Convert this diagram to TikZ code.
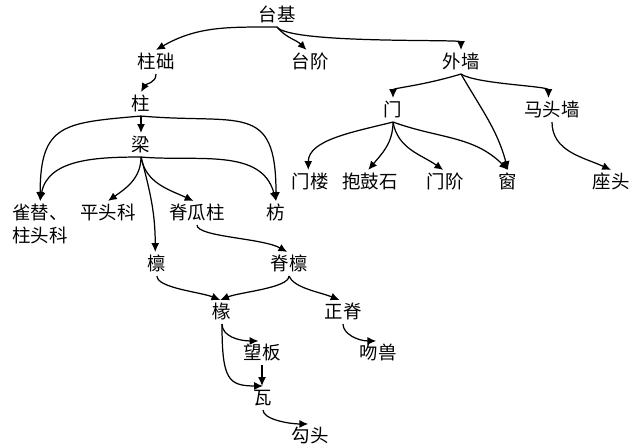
\documentclass[tikz,border=0pt]{standalone}
\usepackage{fontspec}
\usepackage{tikz}
\usetikzlibrary{arrows.meta}
\newfontfamily\cjk{Noto Sans CJK SC}
\tikzset{
  partnode/.style={font=\fontsize{10.5pt}{13pt}\selectfont\cjk, inner sep=1.5pt,
                   text height=9pt, text depth=1.3pt},
  arr/.style={line width=0.7pt, -{Latex[length=5pt,width=4.5pt]}}
}

\begin{document}
\begin{tikzpicture}[x=0.02cm, y=0.02cm]
  \useasboundingbox (0,0) rectangle (632,-446);

  % base and walls
  \node[partnode] (taiji)    at (277,-15) {台基};
  \node[partnode] (zhuchu)   at (156,-62) {柱础};
  \node[partnode] (taijie)   at (310,-62) {台阶};
  \node[partnode] (waiqiang) at (461,-62) {外墙};
  \node[partnode] (zhu)      at (141,-104) {柱};
  \node[partnode] (liang)    at (141,-145) {梁};
  \node[partnode] (men)      at (393,-110) {门};
  \node[partnode] (matou)    at (552,-110) {马头墙};
  \node[partnode] (menlou)   at (310,-182) {门楼};
  \node[partnode] (baogu)    at (370,-182) {抱鼓石};
  \node[partnode] (menjie)   at (445,-182) {门阶};
  \node[partnode] (chuang)   at (508,-182) {窗};
  \node[partnode] (zuotou)   at (611,-182) {座头};

  % frame and roof
  \node[font=\fontsize{10.5pt}{13pt}\selectfont\cjk, inner sep=1.5pt,
        align=left, anchor=north west] (queti) at (9.5,-201)
        {雀替、\\柱头科};
  \node[partnode] (pingtou)  at (108,-213) {平头科};
  \node[partnode] (jigua)    at (197,-213) {脊瓜柱};
  \node[partnode] (fang)     at (276,-213) {枋};
  \node[partnode] (lin)      at (157,-264) {檩};
  \node[partnode] (jilin)    at (289,-264) {脊檩};
  \node[partnode] (chuan)    at (222,-312) {椽};
  \node[partnode] (zhengji)  at (343,-312) {正脊};
  \node[partnode] (wangban)  at (262,-353) {望板};
  \node[partnode] (wenshou)  at (378,-353) {吻兽};
  \node[partnode] (wa)       at (263,-398) {瓦};
  \node[partnode] (goutou)   at (310,-436) {勾头};

  % from the base
  \draw[arr] (taiji.south) to[out=180, in=30] (zhuchu.north);
  \draw[arr] (taiji.south) to[out=-50, in=135] ([xshift=-2pt]taijie.north);
  \draw[arr] (taiji.south) .. controls +(13,-17) and +(0,11) .. (waiqiang.north);
  \draw[arr] (zhuchu.south) to[out=-90, in=60] (zhu.north);

  % column and beam
  \draw[arr] (zhu.south) -- (liang.north);
  \draw[arr] (zhu.south) to[out=185, in=90, looseness=1.5] (queti.north);
  \draw[arr] (zhu.south) to[out=-5, in=90, looseness=1.6] (fang.north);
  \draw[arr] (liang.south) to[out=180, in=80] (queti.north);
  \draw[arr] (liang.south) to[out=-90, in=35] (pingtou.north);
  \draw[arr] (liang.south) to[out=-80, in=155] ([xshift=-2pt]jigua.north);
  \draw[arr] (liang.south) to[out=-75, in=90] ([xshift=-1pt]lin.north);
  \draw[arr] (liang.south) to[out=-5, in=105] (fang.north);

  % outer wall
  \draw[arr] (waiqiang.south) .. controls +(-40,-12) and +(0,10) .. (men.north);
  \draw[arr] (waiqiang.south) to[out=-60, in=105] (chuang.north);
  \draw[arr] (waiqiang.south) .. controls +(15,-10) and +(0,12) .. ([xshift=-2pt]matou.north);
  \draw[arr] (men.south) .. controls +(-40,-10) and +(0,30) .. ([xshift=-1pt]menlou.north);
  \draw[arr] (men.south) to[out=-90, in=50] ([xshift=-1pt]baogu.north);
  \draw[arr] (men.south) to[out=-80, in=145] ([xshift=-1pt]menjie.north);
  \draw[arr] (men.south) to[out=-20, in=135] (chuang.north);
  \draw[arr] (matou.south) to[out=-90, in=155] (zuotou.north);

  % purlins, rafters, tiles
  \draw[arr] (jigua.south) .. controls +(0,-12) and +(-25,14) .. ([xshift=-1pt]jilin.north);
  \draw[arr] (lin.south) .. controls +(0,-12) and +(-20,8) .. ([xshift=-1pt]chuan.north);
  \draw[arr] (jilin.south) .. controls +(0,-12) and +(20,8) .. ([xshift=-1pt]chuan.north);
  \draw[arr] (jilin.south) .. controls +(5,-12) and +(-20,8) .. ([xshift=-2pt]zhengji.north);
  \draw[arr] (zhengji.south) .. controls +(0,-10) and +(-18,0) .. ([xshift=-1pt]wenshou.north);
  \draw[arr] (chuan.south) .. controls +(0,-12) and +(-20,0) .. ([xshift=-2pt]wangban.north);
  \draw[arr] (chuan.south) .. controls +(0,-55) and +(-35,0) .. (wa.north);
  \draw[arr] (wangban.south) -- (wangban.south |- wa.north);
  \draw[arr] (wa.south) .. controls +(0,-9) and +(-20,0) .. ([xshift=-1pt]goutou.north);
\end{tikzpicture}
\end{document}
